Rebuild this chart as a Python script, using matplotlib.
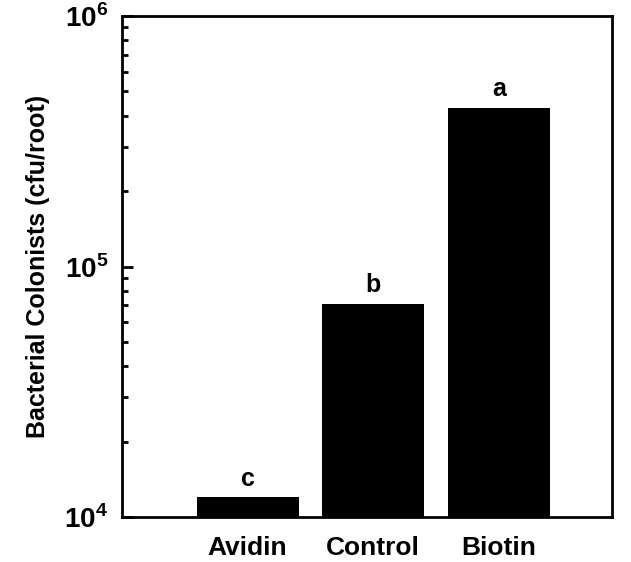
import numpy as np
import matplotlib
matplotlib.use('Agg')
import matplotlib.pyplot as plt
from matplotlib.ticker import LogLocator, FixedLocator, FixedFormatter, NullFormatter

plt.rcParams['font.family'] = ['Liberation Sans', 'DejaVu Sans']
plt.rcParams['font.weight'] = 'bold'
plt.rcParams['mathtext.fontset'] = 'custom'
plt.rcParams['mathtext.rm'] = 'Liberation Sans:bold'
plt.rcParams['mathtext.bf'] = 'Liberation Sans:bold'

groups = ['Avidin', 'Control', 'Biotin']
colonists = [1.2e4, 7.1e4, 4.3e5]
letters = ['c', 'b', 'a']
ytick_vals = [1e4, 1e5, 1e6]
ytick_labels = [r'$10^{4}$', r'$10^{5}$', r'$10^{6}$']

fig = plt.figure(figsize=(6.31, 5.62), dpi=100)
ax = fig.add_axes([0.1933, 0.0801, 0.7767, 0.8914])

x = np.arange(len(groups))
ax.bar(x, colonists, 0.81, color='black')
ax.set_yscale('log')
ax.set_ylim(1e4, 1e6)
ax.set_xlim(-1.0, 2.9)

for xi, v, l in zip(x, colonists, letters):
    ax.text(xi, v * 1.06, l, ha='center', va='bottom', fontsize=18, fontweight='bold')

ax.yaxis.set_major_locator(FixedLocator(ytick_vals))
ax.yaxis.set_major_formatter(FixedFormatter(ytick_labels))
ax.yaxis.set_minor_locator(LogLocator(base=10, subs=np.arange(2, 10)))
ax.yaxis.set_minor_formatter(NullFormatter())
ax.tick_params(axis='y', which='major', direction='in', length=8, width=2, labelsize=20, pad=10)
ax.tick_params(axis='y', which='minor', direction='in', length=4.5, width=2)

ax.set_xticks(x)
ax.set_xticklabels(groups, fontsize=19, fontweight='bold')
ax.tick_params(axis='x', length=0, pad=14)

ax.set_ylabel('Bacterial Colonists (cfu/root)', fontsize=18, fontweight='bold', labelpad=10)

for s in ax.spines.values():
    s.set_linewidth(2.0)

fig.savefig('out.png', dpi=100)
